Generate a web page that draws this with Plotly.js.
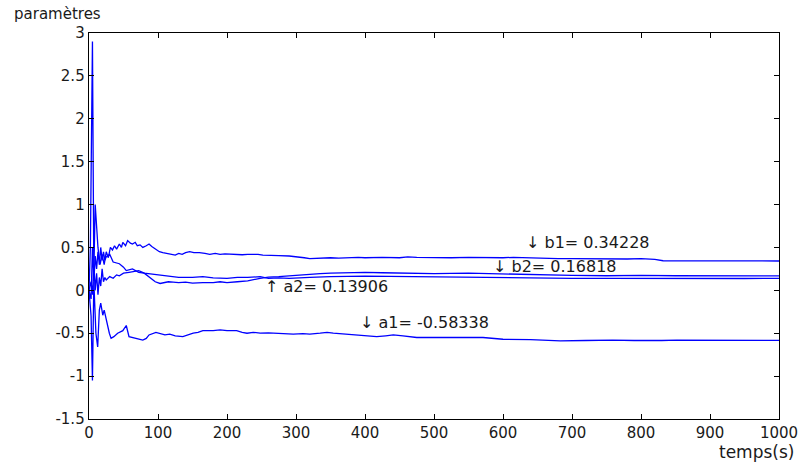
<!DOCTYPE html>
<html>
<head>
<meta charset="utf-8">
<script src="https://cdn.plot.ly/plotly-3.0.1.min.js"></script>
<style>html,body{margin:0;padding:0;background:#fff;}#chart{width:804px;height:465px;}</style>
</head>
<body>
<div id="chart"></div>
<script>
// time (s) and parameter estimates
const tB1 = [0, 2, 5, 7, 9, 11, 13, 16, 19, 22, 25, 28, 31, 34, 37, 40, 44, 47, 49, 53, 56, 60, 63, 67, 70, 74, 78, 83, 87, 91, 95, 102, 107, 112, 120, 125, 130, 135, 140, 146, 152, 160, 168, 175, 183, 190, 197, 204, 215, 222, 230, 245, 252, 260, 275, 290, 298, 304, 312, 320, 335, 350, 362, 375, 390, 400, 425, 450, 462, 475, 500, 525, 550, 575, 600, 615, 630, 650, 680, 700, 730, 750, 780, 800, 820, 832, 850, 875, 900, 930, 950, 975, 1000];
const b1  = [0, 0.5, 2.9, 0.2, 1.0, 0.74, 0.5, 0.3, 0.42, 0.3, 0.45, 0.38, 0.5, 0.47, 0.52, 0.48, 0.54, 0.5, 0.56, 0.52, 0.58, 0.55, 0.54, 0.56, 0.52, 0.53, 0.5, 0.52, 0.54, 0.51, 0.49, 0.45, 0.44, 0.43, 0.42, 0.41, 0.43, 0.42, 0.44, 0.45, 0.44, 0.44, 0.43, 0.42, 0.43, 0.42, 0.425, 0.42, 0.42, 0.415, 0.42, 0.42, 0.41, 0.41, 0.405, 0.40, 0.395, 0.39, 0.38, 0.37, 0.375, 0.38, 0.375, 0.38, 0.385, 0.38, 0.385, 0.38, 0.39, 0.385, 0.38, 0.38, 0.385, 0.38, 0.38, 0.385, 0.38, 0.375, 0.37, 0.37, 0.365, 0.37, 0.365, 0.37, 0.36, 0.345, 0.345, 0.34, 0.34, 0.345, 0.343, 0.342, 0.342];

const tB2 = [0, 3, 5, 7, 9, 11, 13, 15, 17, 19, 21, 23, 25, 30, 35, 40, 44, 50, 58, 65, 72, 80, 87, 92, 96, 103, 115, 122, 130, 140, 150, 165, 180, 190, 200, 215, 230, 248, 260, 275, 290, 305, 320, 335, 350, 375, 400, 425, 450, 475, 500, 550, 600, 625, 650, 700, 750, 800, 850, 900, 950, 1000];
const b2  = [0, 0.1, -0.05, 0.3, 0.0, 0.2, -0.05, 0.15, 0.05, 0.25, 0.1, 0.15, 0.12, 0.16, 0.14, 0.18, 0.17, 0.2, 0.21, 0.22, 0.23, 0.2, 0.155, 0.12, 0.10, 0.08, 0.1, 0.095, 0.09, 0.095, 0.085, 0.09, 0.09, 0.1, 0.09, 0.1, 0.11, 0.14, 0.155, 0.16, 0.17, 0.18, 0.19, 0.195, 0.2, 0.205, 0.21, 0.205, 0.2, 0.2, 0.195, 0.2, 0.19, 0.185, 0.18, 0.175, 0.17, 0.175, 0.17, 0.168, 0.168, 0.168];

const tA2 = [0, 3, 5, 7, 9, 11, 13, 15, 17, 19, 21, 23, 25, 30, 35, 44, 50, 54, 63, 72, 80, 90, 103, 115, 130, 150, 165, 180, 200, 215, 230, 248, 260, 275, 290, 320, 350, 400, 450, 500, 550, 600, 650, 700, 750, 800, 850, 900, 950, 1000];
const a2  = [0, -0.1, 0.5, 0.1, 0.4, 0.25, 0.45, 0.3, 0.5, 0.35, 0.45, 0.35, 0.39, 0.42, 0.33, 0.31, 0.27, 0.23, 0.25, 0.21, 0.2, 0.19, 0.17, 0.16, 0.15, 0.15, 0.16, 0.145, 0.14, 0.15, 0.15, 0.16, 0.14, 0.145, 0.14, 0.15, 0.16, 0.165, 0.16, 0.155, 0.15, 0.145, 0.145, 0.14, 0.14, 0.138, 0.137, 0.137, 0.138, 0.139];

const tA1 = [0, 3, 5, 7, 9, 10, 12.6, 15, 17, 20, 22, 25, 27, 29.5, 32, 36, 41.5, 49, 54, 58, 68, 78, 83, 87, 97, 103, 110, 117, 125, 136, 143, 151, 158, 165, 180, 190, 200, 214, 222, 229, 238, 248, 260, 272, 285, 296, 310, 320, 335, 345, 354, 370, 393, 405, 417, 430, 441, 455, 465, 475, 500, 538, 560, 571, 585, 600, 640, 683, 720, 740, 759, 790, 813, 830, 852, 880, 910, 935, 960, 1000];
const a1  = [0, -0.3, -1.05, 0.1, -0.3, -0.5, -0.66, -0.23, -0.15, -0.29, -0.23, -0.35, -0.41, -0.5, -0.56, -0.54, -0.5, -0.47, -0.41, -0.54, -0.56, -0.58, -0.56, -0.52, -0.49, -0.5, -0.52, -0.51, -0.53, -0.54, -0.52, -0.5, -0.49, -0.47, -0.47, -0.46, -0.47, -0.47, -0.49, -0.5, -0.49, -0.5, -0.495, -0.5, -0.505, -0.51, -0.505, -0.51, -0.5, -0.49, -0.5, -0.51, -0.52, -0.53, -0.54, -0.53, -0.52, -0.53, -0.54, -0.55, -0.55, -0.555, -0.55, -0.55, -0.56, -0.57, -0.575, -0.59, -0.585, -0.58, -0.58, -0.585, -0.59, -0.585, -0.58, -0.58, -0.58, -0.585, -0.585, -0.583];

const xTicks = [0, 100, 200, 300, 400, 500, 600, 700, 800, 900, 1000];
const yTicks = [-1.5, -1, -0.5, 0, 0.5, 1, 1.5, 2, 2.5, 3];
const yTickText = ['-1.5', '-1', '-0.5', '0', '0.5', '1', '1.5', '2', '2.5', '3'];

const labels = ['↓ b1= 0.34228', '↓ b2= 0.16818', '↑ a2= 0.13906', '↓ a1= -0.58338'];
const labelX = [630, 583, 252, 390];
const labelY = [0.56, 0.28, 0.04, -0.38];

const font = 'DejaVu Sans, Arial, sans-serif';
const lineStyle = {color: '#0000ff', width: 1.3};
const traces = [
  {x: tB1, y: b1, name: 'b1'},
  {x: tB2, y: b2, name: 'b2'},
  {x: tA2, y: a2, name: 'a2'},
  {x: tA1, y: a1, name: 'a1'}
].map(s => Object.assign(s, {type: 'scatter', mode: 'lines', line: lineStyle, showlegend: false}));

const annotations = labels.map((t, i) => ({
  x: labelX[i], y: labelY[i], xref: 'x', yref: 'y', text: t, showarrow: false,
  xanchor: 'left', yanchor: 'middle', font: {family: font, size: 16, color: '#1a1a1a'}
}));
annotations.push({xref: 'paper', yref: 'paper', x: -0.112, y: 1.05, xanchor: 'left', yanchor: 'middle',
  text: 'paramètres', showarrow: false, font: {family: font, size: 15, color: '#1a1a1a'}});
annotations.push({xref: 'paper', yref: 'paper', x: 1.025, y: -0.055, xanchor: 'right', yanchor: 'top',
  text: 'temps(s)', showarrow: false, font: {family: font, size: 17, color: '#1a1a1a'}});

const axisCommon = {
  showgrid: false, zeroline: false, showline: true, linecolor: '#000', linewidth: 1.3,
  mirror: 'ticks', ticks: 'inside', ticklen: 5, tickcolor: '#000', tickwidth: 1,
  tickfont: {family: font, size: 15, color: '#1a1a1a'}
};

const layout = {
  width: 804, height: 465,
  margin: {l: 89, r: 25, t: 33, b: 46},
  paper_bgcolor: '#fff', plot_bgcolor: '#fff',
  xaxis: Object.assign({}, axisCommon, {range: [0, 1000], tickvals: xTicks, ticktext: xTicks.map(String)}),
  yaxis: Object.assign({}, axisCommon, {range: [-1.5, 3], tickvals: yTicks, ticktext: yTickText}),
  annotations: annotations,
  showlegend: false
};

Plotly.newPlot('chart', traces, layout, {displayModeBar: false, staticPlot: true});
</script>
</body>
</html>
